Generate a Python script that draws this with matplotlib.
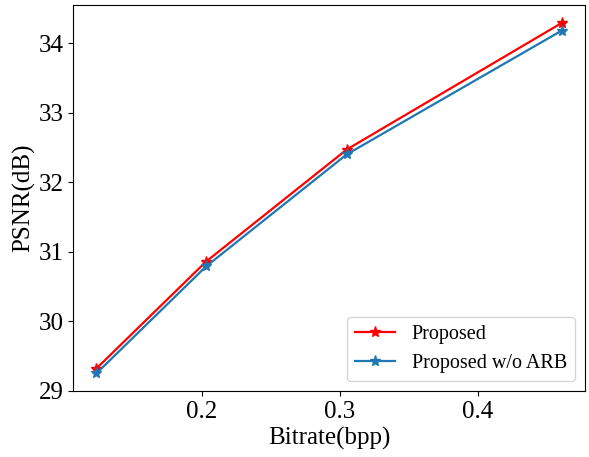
import matplotlib
matplotlib.use("Agg")
import matplotlib.pyplot as plt

bitrate = [0.1233, 0.203, 0.305, 0.461]
psnr_proposed = [29.32, 30.86, 32.47, 34.29]
psnr_wo_arb = [29.25, 30.79, 32.40, 34.18]

plt.rcParams['font.family'] = ['Liberation Serif', 'DejaVu Serif']

fig = plt.figure(figsize=(5.89, 4.57), dpi=100)
ax = fig.add_axes([0.1240, 0.1444, 0.869, 0.8436])
ax.plot(bitrate, psnr_proposed, color='red', marker='*', markersize=8, linewidth=1.6, label='Proposed')
ax.plot(bitrate, psnr_wo_arb, color='#1f77b4', marker='*', markersize=8, linewidth=1.6, label='Proposed w/o ARB')
ax.set_xticks([0.2, 0.3, 0.4])
ax.set_yticks([29, 30, 31, 32, 33, 34])
ax.tick_params(labelsize=18)
ax.set_xlabel('Bitrate(bpp)', fontsize=18, labelpad=3)
ax.set_ylabel('PSNR(dB)', fontsize=18, labelpad=2)
ax.legend(loc='lower right', fontsize=14.5)
fig.savefig('out.png', dpi=100)
